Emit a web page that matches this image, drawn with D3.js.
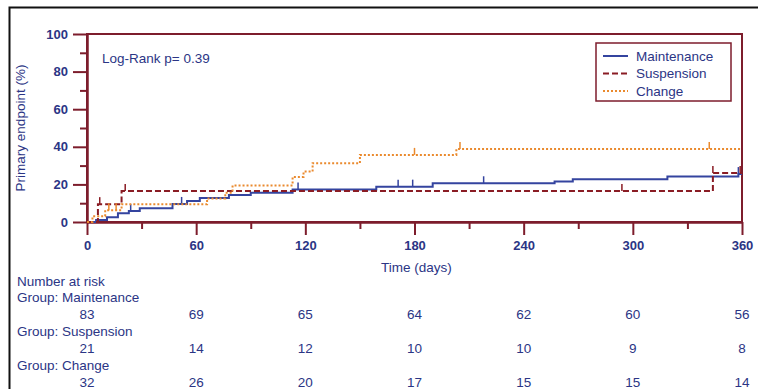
<!DOCTYPE html>
<html>
<head>
<meta charset="utf-8">
<script src="https://cdn.jsdelivr.net/npm/d3@7"></script>
<style>
  body { margin: 0; background: #fff; }
  svg text { font-family: "Liberation Sans", Arial, sans-serif; fill: #2b3585; }
</style>
</head>
<body>
<svg id="chart"></svg>
<script>
// groups and number-at-risk table
const groups = ['Maintenance', 'Suspension', 'Change'];
const riskDays = [0, 60, 120, 180, 240, 300, 360];
const riskMaintenance = [83, 69, 65, 64, 62, 60, 56];
const riskSuspension = [21, 14, 12, 10, 10, 9, 8];
const riskChange = [32, 26, 20, 17, 15, 15, 14];

// cumulative incidence steps (day, %)
const maintDays = [0, 5, 11, 17, 23, 29, 47, 55, 62, 78, 90, 113, 159, 190, 257, 267, 319, 358];
const maintPct = [0, 1.1, 2.5, 4.6, 5.9, 7.3, 9.6, 11.2, 12.8, 14.4, 15.5, 17.3, 18.8, 20.6, 21.5, 22.8, 24.2, 25.5];
const maintCensor = [24, 52, 116, 171, 179, 218, 358];

const suspDays = [0, 6, 19, 344];
const suspPct = [0, 9.5, 16.5, 26];
const suspCensor = [7, 21, 294, 344, 359];

const changeDays = [0, 3, 10, 19, 66, 76, 80, 113, 119, 124, 150, 203];
const changePct = [0, 3.1, 6.3, 9.4, 12.5, 15.6, 19.4, 24, 26.8, 31.3, 35.7, 38.8];
const changeCensor = [12, 16, 180, 205, 342];

const followUp = 360;
const xTicks = [0, 60, 120, 180, 240, 300, 360];
const xMinor = [30, 90, 150, 210, 270, 330];
const yTicks = [0, 20, 40, 60, 80, 100];
const yMinor = [10, 30, 50, 70, 90];
const pValueText = 'Log-Rank p= 0.39';

const axisColor = '#7d1d2c';
const textColor = '#2b3585';
const fontSize = '13.5px';

const series = [
  {name: groups[0], days: maintDays, pct: maintPct, censor: maintCensor, color: '#34449f', dash: null, risk: riskMaintenance},
  {name: groups[1], days: suspDays, pct: suspPct, censor: suspCensor, color: '#8a1c24', dash: '6,3', risk: riskSuspension},
  {name: groups[2], days: changeDays, pct: changePct, censor: changeCensor, color: '#ea8a2e', dash: '2,2', risk: riskChange}
];

const width = 758, height = 389;
const margin = {top: 34, left: 87, right: 16, bottom: 167};

const svg = d3.select('#chart')
  .attr('width', width)
  .attr('height', height);

// outer black frame
svg.append('rect')
  .attr('x', 9.5).attr('y', 7.5)
  .attr('width', 900).attr('height', 600)
  .attr('fill', 'none')
  .attr('stroke', '#111')
  .attr('stroke-width', 2);

const xScale = d3.scaleLinear().domain([0, 360]).range([margin.left, width - margin.right]);
const yScale = d3.scaleLinear().domain([0, 100]).range([height - margin.bottom, margin.top]);

// plot box
svg.append('rect')
  .attr('x', xScale(0)).attr('y', yScale(100))
  .attr('width', xScale(360) - xScale(0))
  .attr('height', yScale(0) - yScale(100))
  .attr('fill', 'none')
  .attr('stroke', axisColor)
  .attr('stroke-width', 2);

// axes
const xAxisG = svg.append('g')
  .attr('transform', `translate(0,${yScale(0)})`)
  .call(d3.axisBottom(xScale).tickValues(xTicks).tickSize(13).tickPadding(6).tickSizeOuter(0));
const xMinorG = svg.append('g')
  .attr('transform', `translate(0,${yScale(0)})`)
  .call(d3.axisBottom(xScale).tickValues(xMinor).tickSize(7).tickFormat('').tickSizeOuter(0));
const yAxisG = svg.append('g')
  .attr('transform', `translate(${xScale(0)},0)`)
  .call(d3.axisLeft(yScale).tickValues(yTicks).tickSize(14).tickPadding(5).tickSizeOuter(0));
const yMinorG = svg.append('g')
  .attr('transform', `translate(${xScale(0)},0)`)
  .call(d3.axisLeft(yScale).tickValues(yMinor).tickSize(7).tickFormat('').tickSizeOuter(0));

[xAxisG, xMinorG, yAxisG, yMinorG].forEach(g => {
  g.select('.domain').attr('stroke', axisColor).attr('stroke-width', 2);
  g.selectAll('.tick line').attr('stroke', axisColor).attr('stroke-width', 2);
  g.selectAll('.tick text')
    .attr('fill', textColor)
    .style('font-size', '13px')
    .style('font-weight', 'bold');
});

// axis titles
svg.append('text')
  .attr('transform', `translate(25,${(yScale(0) + yScale(100)) / 2}) rotate(-90)`)
  .attr('text-anchor', 'middle')
  .style('font-size', fontSize)
  .text('Primary endpoint (%)');

svg.append('text')
  .attr('x', xScale(180) + 2)
  .attr('y', 272)
  .attr('text-anchor', 'middle')
  .style('font-size', fontSize)
  .text('Time (days)');

svg.append('text')
  .attr('x', 102).attr('y', 63)
  .style('font-size', fontSize)
  .text(pValueText);

// step curves
const line = d3.line()
  .x(d => xScale(d[0]))
  .y(d => yScale(d[1]))
  .curve(d3.curveStepAfter);

// value at a given day, for censor ticks
function valueAt(s, day) {
  let v = 0;
  s.days.forEach((d, i) => { if (d <= day) v = s.pct[i]; });
  return v;
}

series.forEach(s => {
  const pts = s.days.map((d, i) => [d, s.pct[i]]);
  pts.push([followUp, s.pct[s.pct.length - 1]]);
  svg.append('path')
    .datum(pts)
    .attr('d', line)
    .attr('fill', 'none')
    .attr('stroke', s.color)
    .attr('stroke-width', 2)
    .attr('stroke-dasharray', s.dash);

  svg.selectAll(null)
    .data(s.censor)
    .join('line')
    .attr('x1', d => xScale(d)).attr('x2', d => xScale(d))
    .attr('y1', d => yScale(valueAt(s, d)))
    .attr('y2', d => yScale(valueAt(s, d)) - 7)
    .attr('stroke', s.color)
    .attr('stroke-width', 1.5);
});

// legend
const legend = svg.append('g').attr('transform', 'translate(596,43)');
legend.append('rect')
  .attr('width', 135).attr('height', 58)
  .attr('fill', '#fff')
  .attr('stroke', axisColor)
  .attr('stroke-width', 1.5);
series.forEach((s, i) => {
  const yy = 13 + i * 17.5;
  legend.append('line')
    .attr('x1', 7).attr('x2', 32)
    .attr('y1', yy).attr('y2', yy)
    .attr('stroke', s.color)
    .attr('stroke-width', 2)
    .attr('stroke-dasharray', s.dash);
  legend.append('text')
    .attr('x', 40).attr('y', yy + 4.5)
    .style('font-size', fontSize)
    .text(s.name);
});

// number at risk table
svg.append('text')
  .attr('x', 17).attr('y', 286)
  .style('font-size', fontSize)
  .text('Number at risk');

series.forEach((s, i) => {
  const rowY = 302 + i * 34;
  svg.append('text')
    .attr('x', 17).attr('y', rowY)
    .style('font-size', fontSize)
    .text('Group: ' + s.name);
  svg.selectAll(null)
    .data(s.risk)
    .join('text')
    .attr('x', (d, j) => xScale(riskDays[j]))
    .attr('y', rowY + 17)
    .attr('text-anchor', 'middle')
    .style('font-size', fontSize)
    .text(d => d);
});
</script>
</body>
</html>
